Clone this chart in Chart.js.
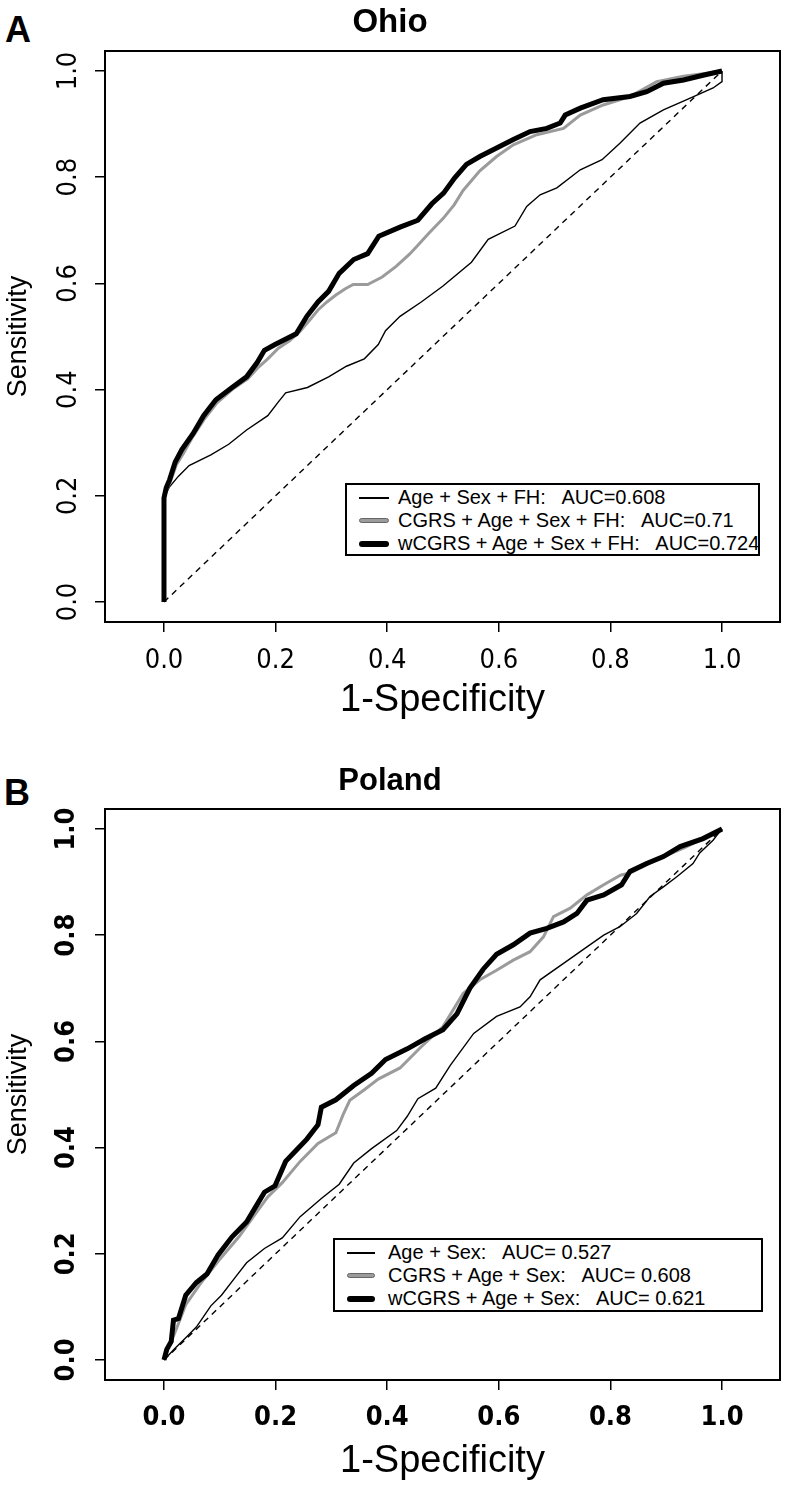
<!DOCTYPE html>
<html>
<head>
<meta charset="utf-8">
<script src="https://cdn.jsdelivr.net/npm/chart.js@4.4.1/dist/chart.umd.min.js"></script>
<style>
  html, body { margin: 0; padding: 0; background: #fff; }
  body { width: 792px; height: 1490px; position: relative; overflow: hidden;
         font-family: "Liberation Sans", Arial, sans-serif; color: #000; }
  .panel { position: absolute; left: 0; width: 792px; height: 745px; }
  .tag { position: absolute; font-weight: bold; font-size: 36px; line-height: 1; }
  .legend { position: absolute; border: 2px solid #000; background: #fff; box-sizing: border-box; }
  .row { height: 23px; display: flex; align-items: center; font-size: 20px; white-space: pre; }
  .sw { flex: none; margin-left: 12px; }
  .sw-thin  { height: 2px; background: #000; }
  .sw-gray  { height: 3px; background: #9b9b9b; border: 1px solid #666; border-radius: 3px; }
  .sw-thick { height: 6px; background: #000; border-radius: 3px; }
</style>
</head>
<body>

<div class="tag" style="left:5px; top:12px;">A</div>
<div class="panel" style="top:0;"><canvas id="ohio" width="792" height="745"></canvas></div>
<div class="legend" style="left:345px; top:483px; width:415px; height:73px; padding-top:1px;">
  <div class="row"><div class="sw sw-thin" style="width:30px; margin-right:9px;"></div>Age + Sex + FH:   AUC=0.608</div>
  <div class="row"><div class="sw sw-gray" style="width:28px; margin-right:9px;"></div>CGRS + Age + Sex + FH:   AUC=0.71</div>
  <div class="row"><div class="sw sw-thick" style="width:30px; margin-right:9px;"></div>wCGRS + Age + Sex + FH:   AUC=0.724</div>
</div>

<div class="tag" style="left:4px; top:775px;">B</div>
<div class="panel" style="top:745px;"><canvas id="poland" width="792" height="745"></canvas></div>
<div class="legend" style="left:333px; top:1238px; width:430px; height:74px; padding-top:1px;">
  <div class="row"><div class="sw sw-thin" style="width:28px; margin-right:13px;"></div>Age + Sex:   AUC= 0.527</div>
  <div class="row"><div class="sw sw-gray" style="width:26px; margin-right:13px;"></div>CGRS + Age + Sex:   AUC= 0.608</div>
  <div class="row"><div class="sw sw-thick" style="width:28px; margin-right:13px;"></div>wCGRS + Age + Sex:   AUC= 0.621</div>
</div>

<script>
'use strict';

// ---- axes ----
const X_TICKS = [0, 0.2, 0.4, 0.6, 0.8, 1.0];
const Y_TICKS = [0, 0.2, 0.4, 0.6, 0.8, 1.0];
const DIAG_X  = [0, 1];
const DIAG_Y  = [0, 1];

// ---- Ohio (panel A) ----
const ohioBaseX  = [0, 0, 0.010, 0.026, 0.045, 0.084, 0.116, 0.148, 0.186, 0.205,
                    0.218, 0.257, 0.295, 0.327, 0.359, 0.384, 0.397, 0.423, 0.461, 0.500,
                    0.551, 0.581, 0.629, 0.650, 0.674, 0.704, 0.746, 0.785, 0.817, 0.853,
                    0.895, 0.943, 0.984, 1.0, 1.0];
const ohioBaseY  = [0, 0.196, 0.217, 0.237, 0.257, 0.277, 0.297, 0.324, 0.351, 0.377,
                    0.394, 0.404, 0.424, 0.444, 0.458, 0.485, 0.511, 0.538, 0.565, 0.595,
                    0.640, 0.683, 0.708, 0.745, 0.767, 0.780, 0.814, 0.833, 0.864, 0.902,
                    0.927, 0.949, 0.968, 0.980, 1.0];
const ohioCgrsX  = [0, 0, 0.005, 0.012, 0.022, 0.035, 0.052, 0.072, 0.095, 0.122,
                    0.150, 0.170, 0.186, 0.205, 0.225, 0.244, 0.262, 0.276, 0.292, 0.308,
                    0.325, 0.339, 0.365, 0.391, 0.416, 0.440, 0.455, 0.475, 0.500, 0.520,
                    0.536, 0.566, 0.596, 0.626, 0.668, 0.716, 0.746, 0.787, 0.835, 0.883,
                    0.931, 0.966, 1.0];
const ohioCgrsY  = [0, 0.196, 0.212, 0.228, 0.258, 0.280, 0.312, 0.344, 0.375, 0.400,
                    0.420, 0.443, 0.458, 0.478, 0.492, 0.510, 0.532, 0.550, 0.565, 0.578,
                    0.590, 0.598, 0.598, 0.612, 0.632, 0.655, 0.672, 0.695, 0.722, 0.748,
                    0.775, 0.812, 0.839, 0.861, 0.880, 0.892, 0.917, 0.936, 0.952, 0.980,
                    0.990, 0.995, 1.0];
const ohioWcgrsX = [0, 0, 0.004, 0.010, 0.020, 0.032, 0.052, 0.071, 0.093, 0.122,
                    0.148, 0.167, 0.180, 0.199, 0.237, 0.256, 0.276, 0.295, 0.314, 0.340,
                    0.365, 0.385, 0.423, 0.455, 0.480, 0.501, 0.521, 0.542, 0.566, 0.596,
                    0.626, 0.656, 0.686, 0.710, 0.719, 0.746, 0.787, 0.835, 0.865, 0.895,
                    0.931, 0.966, 1.0];
const ohioWcgrsY = [0, 0.196, 0.215, 0.230, 0.263, 0.287, 0.317, 0.351, 0.381, 0.404,
                    0.424, 0.451, 0.474, 0.485, 0.505, 0.538, 0.565, 0.585, 0.619, 0.645,
                    0.656, 0.689, 0.706, 0.719, 0.750, 0.770, 0.799, 0.824, 0.839, 0.855,
                    0.871, 0.886, 0.892, 0.902, 0.917, 0.930, 0.946, 0.952, 0.961, 0.977,
                    0.983, 0.992, 1.0];

// ---- Poland (panel B) ----
const polandBaseX  = [0, 0.019, 0.039, 0.058, 0.084, 0.103, 0.128, 0.148, 0.180, 0.212,
                      0.244, 0.282, 0.314, 0.340, 0.372, 0.417, 0.436, 0.455, 0.487, 0.513,
                      0.555, 0.596, 0.638, 0.656, 0.674, 0.716, 0.758, 0.788, 0.817, 0.847,
                      0.871, 0.895, 0.919, 0.948, 0.960, 0.984, 0.990, 1.0];
const polandBaseY  = [0, 0.021, 0.042, 0.062, 0.102, 0.122, 0.156, 0.183, 0.210, 0.230,
                      0.270, 0.304, 0.331, 0.371, 0.398, 0.432, 0.459, 0.492, 0.512, 0.555,
                      0.615, 0.647, 0.665, 0.684, 0.716, 0.747, 0.778, 0.800, 0.816, 0.841,
                      0.873, 0.891, 0.910, 0.935, 0.955, 0.979, 0.987, 1.0];
const polandCgrsX  = [0, 0.008, 0.019, 0.039, 0.064, 0.097, 0.135, 0.167, 0.186, 0.212,
                      0.244, 0.276, 0.308, 0.321, 0.333, 0.359, 0.384, 0.423, 0.461, 0.500,
                      0.536, 0.566, 0.596, 0.626, 0.656, 0.680, 0.698, 0.728, 0.758, 0.788,
                      0.818, 0.835, 0.865, 0.895, 0.931, 0.966, 1.0];
const polandCgrsY  = [0, 0.025, 0.050, 0.104, 0.142, 0.186, 0.233, 0.280, 0.307, 0.334,
                      0.374, 0.408, 0.428, 0.462, 0.489, 0.509, 0.529, 0.550, 0.590, 0.628,
                      0.690, 0.716, 0.734, 0.753, 0.769, 0.797, 0.835, 0.851, 0.876, 0.895,
                      0.913, 0.917, 0.933, 0.948, 0.964, 0.982, 1.0];
const polandWcgrsX = [0, 0.005, 0.013, 0.017, 0.026, 0.039, 0.058, 0.077, 0.097, 0.122,
                      0.148, 0.167, 0.180, 0.199, 0.218, 0.237, 0.256, 0.276, 0.282, 0.308,
                      0.340, 0.372, 0.397, 0.436, 0.468, 0.500, 0.525, 0.548, 0.572, 0.596,
                      0.626, 0.656, 0.686, 0.716, 0.740, 0.758, 0.788, 0.820, 0.835, 0.865,
                      0.895, 0.925, 0.966, 1.0];
const polandWcgrsY = [0, 0.020, 0.035, 0.075, 0.078, 0.122, 0.146, 0.162, 0.198, 0.232,
                      0.260, 0.293, 0.316, 0.328, 0.374, 0.395, 0.416, 0.443, 0.476, 0.490,
                      0.517, 0.540, 0.566, 0.586, 0.605, 0.622, 0.652, 0.700, 0.736, 0.764,
                      0.782, 0.804, 0.813, 0.825, 0.841, 0.866, 0.876, 0.895, 0.920, 0.935,
                      0.948, 0.967, 0.982, 1.0];

const NARROW = '"Liberation Sans Narrow", "DejaVu Sans Condensed", "Liberation Sans", sans-serif';
const SANS   = '"Liberation Sans", Arial, sans-serif';
const GRAY   = '#9b9b9b';

function pts(xs, ys) {
  return xs.map((x, i) => ({ x, y: ys[i] }));
}

// full frame round the plot region, like R's box()
const frameBox = {
  id: 'frameBox',
  afterDraw(chart) {
    const { ctx, chartArea: a } = chart;
    ctx.save();
    ctx.strokeStyle = '#000';
    ctx.lineWidth = 2;
    ctx.strokeRect(a.left, a.top, a.right - a.left, a.bottom - a.top);
    ctx.restore();
  },
};

function buildRocChart(canvasId, o) {
  const canvas = document.getElementById(canvasId);
  const tickFont = { family: NARROW, size: 27, weight: o.bold ? 'bold' : 'normal' };

  return new Chart(canvas, {
    type: 'scatter',
    data: {
      datasets: [
        { data: pts(o.thickX, o.thickY), borderColor: '#000', borderWidth: 5 },
        { data: pts(o.grayX, o.grayY),   borderColor: GRAY,   borderWidth: 3 },
        { data: pts(o.thinX, o.thinY),   borderColor: '#000', borderWidth: 1.4 },
        { data: pts(DIAG_X, DIAG_Y),     borderColor: '#000', borderWidth: 1.4, borderDash: [6, 5] },
      ].map(d => Object.assign(d, { showLine: true, pointRadius: 0, fill: false, tension: 0 })),
    },
    options: {
      responsive: false,
      animation: false,
      layout: { padding: { left: 0, right: 12, top: 0, bottom: 0 } },
      plugins: {
        legend:  { display: false },
        tooltip: { enabled: false },
        title: {
          display: true,
          text: o.title,
          color: '#000',
          font: { family: SANS, size: o.titleSize, weight: 'bold' },
          padding: o.titlePad,
        },
      },
      scales: {
        x: {
          type: 'linear',
          min: -0.1057,
          max: 1.1039,
          afterBuildTicks: s => { s.ticks = X_TICKS.map(v => ({ value: v })); },
          afterFit: s => { s.height = o.xHeight; },
          grid:   { drawOnChartArea: false, drawTicks: true, tickLength: 10, color: '#000', lineWidth: 1.5 },
          border: { display: false },
          ticks: {
            color: '#000', font: tickFont, padding: o.xTickPad,
            maxRotation: 0, autoSkip: false,
            callback: v => v.toFixed(1),
          },
          title: {
            display: true, text: '1-Specificity', color: '#000',
            font: { family: SANS, size: 38 },
            padding: { top: 0, bottom: o.xTitlePad },
          },
        },
        y: {
          type: 'linear',
          min: -0.0377,
          max: 1.0377,
          afterBuildTicks: s => { s.ticks = Y_TICKS.map(v => ({ value: v })); },
          afterFit: s => { s.width = 105; },
          grid:   { drawOnChartArea: false, drawTicks: true, tickLength: 10, color: '#000', lineWidth: 1.5 },
          border: { display: false },
          ticks: {
            color: '#000', font: tickFont, padding: 6.6,
            minRotation: 90, maxRotation: 90, crossAlign: 'center', autoSkip: false,
            callback: v => v.toFixed(1),
          },
          title: {
            display: true, text: 'Sensitivity', color: '#000',
            font: { family: SANS, size: 27 },
            padding: { top: 2, bottom: 0 },
          },
        },
      },
    },
    plugins: [frameBox],
  });
}

buildRocChart('ohio', {
  title: 'Ohio',
  titleSize: 33,
  titlePad: { top: 3, bottom: 8.4 },
  xHeight: 123,
  xTickPad: 12.8,
  xTitlePad: 21.2,
  bold: false,
  thinX: ohioBaseX,   thinY: ohioBaseY,
  grayX: ohioCgrsX,   grayY: ohioCgrsY,
  thickX: ohioWcgrsX, thickY: ohioWcgrsY,
});

buildRocChart('poland', {
  title: 'Poland',
  titleSize: 31,
  titlePad: { top: 18, bottom: 8.8 },
  xHeight: 110,
  xTickPad: 11.8,
  xTitlePad: 5.2,
  bold: true,
  thinX: polandBaseX,   thinY: polandBaseY,
  grayX: polandCgrsX,   grayY: polandCgrsY,
  thickX: polandWcgrsX, thickY: polandWcgrsY,
});
</script>
</body>
</html>
